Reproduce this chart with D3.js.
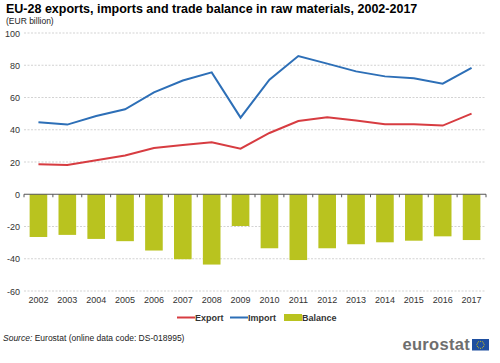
<!DOCTYPE html>
<html>
<head>
<meta charset="utf-8">
<script src="https://cdn.jsdelivr.net/npm/d3@7"></script>
<style>
  body { margin: 0; background: #fff; }
  svg { font-family: "Liberation Sans", Arial, sans-serif; }
</style>
</head>
<body>
<div id="chart"></div>
<script>
// values, EUR billion
const years = ["2002", "2003", "2004", "2005", "2006", "2007", "2008", "2009",
               "2010", "2011", "2012", "2013", "2014", "2015", "2016", "2017"];
const exportVals = [18.6, 18.2, 21.1, 24.0, 28.7, 30.6, 32.2, 28.3, 38.0, 45.4, 47.7, 45.7, 43.4, 43.4, 42.6, 50.0];
const importVals = [44.6, 43.2, 48.5, 52.7, 63.2, 70.5, 75.6, 47.5, 71.0, 85.7, 81.0, 76.2, 73.1, 71.9, 68.6, 78.3];
const balanceVals = [-26.5, -25.2, -27.7, -29.1, -34.9, -40.3, -43.6, -19.7, -33.5, -40.8, -33.5, -31.0, -29.8, -28.8, -26.1, -28.4];
const yTicks = [100, 80, 60, 40, 20, 0, -20, -40, -60];

const W = 500, H = 363;
const svg = d3.select("#chart").append("svg")
    .attr("width", W)
    .attr("height", H);

const x = d3.scaleBand()
    .domain(years)
    .range([24, 486])
    .paddingInner(0.39)
    .paddingOuter(0.195);

const y = d3.scaleLinear()
    .domain([-60, 100])
    .range([291, 33]);

// title
svg.append("text")
    .attr("x", 6).attr("y", 13)
    .attr("font-size", 12.5).attr("font-weight", "bold")
    .attr("fill", "#000")
    .text("EU-28 exports, imports and trade balance in raw materials, 2002-2017");
svg.append("text")
    .attr("x", 6).attr("y", 24)
    .attr("font-size", 8.5).attr("fill", "#222")
    .text("(EUR billion)");

// gridlines
svg.append("g")
    .selectAll("line")
    .data(yTicks.filter(d => d !== 0))
    .join("line")
    .attr("x1", 24).attr("x2", 486)
    .attr("y1", d => y(d)).attr("y2", d => y(d))
    .attr("stroke", "#c8c8c8")
    .attr("stroke-width", 0.8)
    .attr("stroke-dasharray", "2,1.5");

// y labels
svg.append("g")
    .selectAll("text")
    .data(yTicks)
    .join("text")
    .attr("x", 20)
    .attr("y", d => y(d) + 3.5)
    .attr("text-anchor", "end")
    .attr("font-size", 9).attr("fill", "#333")
    .text(d => d);

// balance bars
svg.append("g")
    .selectAll("rect")
    .data(balanceVals)
    .join("rect")
    .attr("x", (d, i) => x(years[i]))
    .attr("y", y(0))
    .attr("width", x.bandwidth())
    .attr("height", d => y(d) - y(0))
    .attr("fill", "#b9c31f");

// x axis at zero
const xAxis = svg.append("g")
    .attr("transform", `translate(0,${y(0)})`);
xAxis.append("line")
    .attr("x1", 24).attr("x2", 486)
    .attr("stroke", "#555").attr("stroke-width", 1);
const step = x.step();
xAxis.selectAll("line.tick")
    .data(d3.range(years.length + 1))
    .join("line")
    .attr("class", "tick")
    .attr("x1", i => 24 + i * step).attr("x2", i => 24 + i * step)
    .attr("y1", 0).attr("y2", 3)
    .attr("stroke", "#555");

// year labels at bottom
svg.append("g")
    .selectAll("text")
    .data(years)
    .join("text")
    .attr("x", d => x(d) + x.bandwidth() / 2)
    .attr("y", 303)
    .attr("text-anchor", "middle")
    .attr("font-size", 9).attr("fill", "#333")
    .text(d => d);

// lines
const line = d3.line()
    .x((d, i) => x(years[i]) + x.bandwidth() / 2)
    .y(d => y(d));

svg.append("path")
    .datum(importVals)
    .attr("fill", "none")
    .attr("stroke", "#2d6fb7")
    .attr("stroke-width", 2)
    .attr("d", line);

svg.append("path")
    .datum(exportVals)
    .attr("fill", "none")
    .attr("stroke", "#d73c41")
    .attr("stroke-width", 2)
    .attr("d", line);

// legend
const lg = svg.append("g").attr("font-size", 9).attr("font-weight", "bold").attr("fill", "#333");
lg.append("line").attr("x1", 177).attr("x2", 195).attr("y1", 317.5).attr("y2", 317.5)
    .attr("stroke", "#d73c41").attr("stroke-width", 2);
lg.append("text").attr("x", 195).attr("y", 321).text("Export");
lg.append("line").attr("x1", 230).attr("x2", 248).attr("y1", 317.5).attr("y2", 317.5)
    .attr("stroke", "#2d6fb7").attr("stroke-width", 2);
lg.append("text").attr("x", 248).attr("y", 321).text("Import");
lg.append("rect").attr("x", 284).attr("y", 314).attr("width", 18).attr("height", 7)
    .attr("fill", "#b9c31f");
lg.append("text").attr("x", 302).attr("y", 321).text("Balance");

// source
const src = svg.append("text")
    .attr("x", 3).attr("y", 341)
    .attr("font-size", 8.5).attr("fill", "#222");
src.append("tspan").attr("font-style", "italic").text("Source:");
src.append("tspan").text(" Eurostat (online data code: DS-018995)");

// logo
svg.append("text")
    .attr("x", 470).attr("y", 350)
    .attr("text-anchor", "end")
    .attr("font-size", 16.5).attr("font-weight", "bold")
    .attr("fill", "#6e6e6e")
    .attr("letter-spacing", 0.3)
    .text("eurostat");
svg.append("rect")
    .attr("x", 472).attr("y", 339)
    .attr("width", 17).attr("height", 11.5)
    .attr("fill", "#1e4fa0");
const stars = d3.range(12).map(i => i * Math.PI / 6);
svg.append("g")
    .selectAll("circle")
    .data(stars)
    .join("circle")
    .attr("cx", a => 480.5 + 3.6 * Math.cos(a))
    .attr("cy", a => 344.75 + 3.6 * Math.sin(a))
    .attr("r", 0.5)
    .attr("fill", "#f2d600");
</script>
</body>
</html>
